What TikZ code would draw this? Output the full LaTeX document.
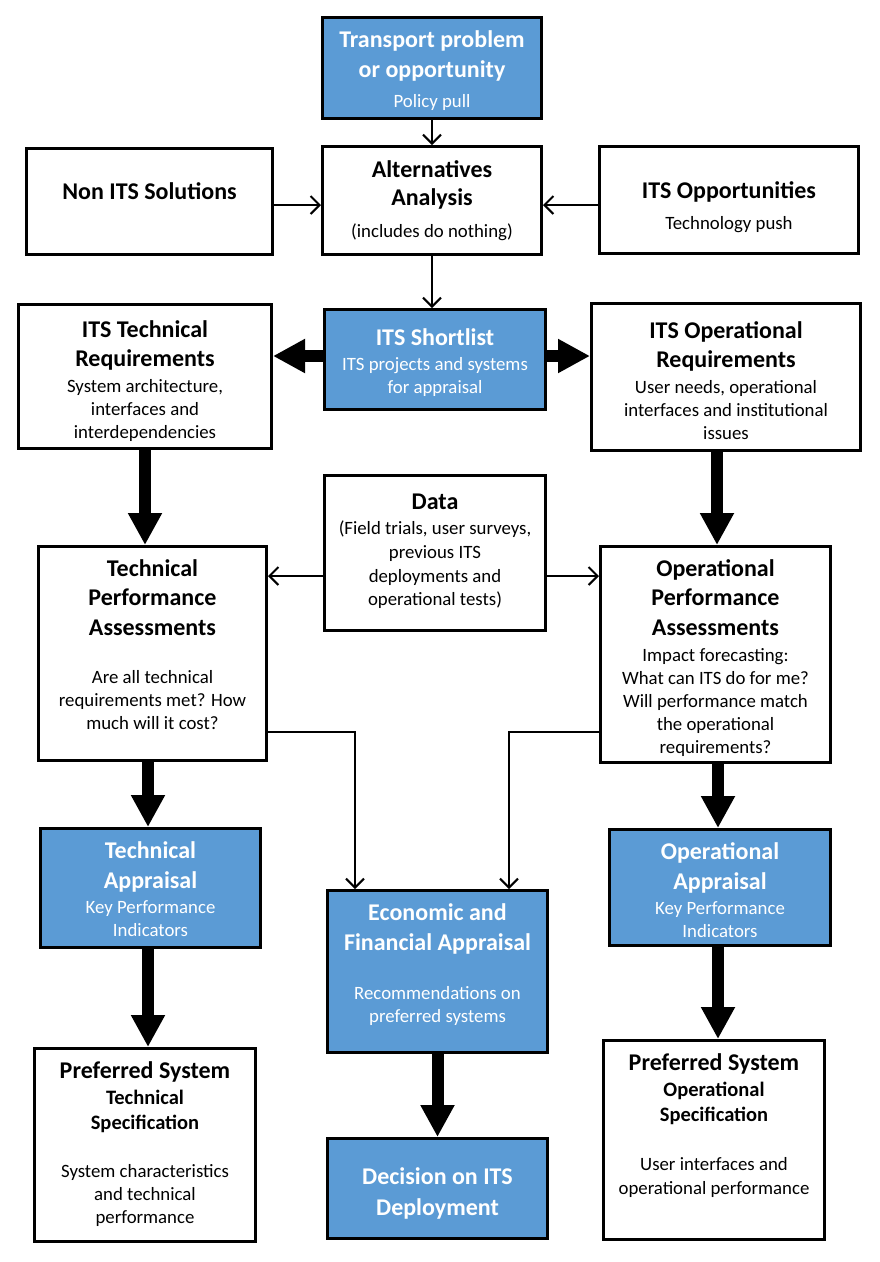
\documentclass[tikz,border=0pt]{standalone}
\usepackage{fontspec}
\setmainfont{Carlito}
\usetikzlibrary{arrows.meta}
\definecolor{itsblue}{HTML}{5B9BD5}
\tikzset{
  box/.style={draw=black, line width=3pt, fill=white, rectangle, inner sep=0pt},
  bbox/.style={box, fill=itsblue},
  hd/.style={font=\bfseries\fontsize{24}{28}\selectfont, inner sep=0pt, text height=0.64em, text depth=0pt, yshift=-4pt},
  mb/.style={font=\bfseries\fontsize{20.5}{24}\selectfont, inner sep=0pt, text height=0.64em, text depth=0pt, yshift=-3.5pt},
  sm/.style={font=\fontsize{18.8}{22}\selectfont, inner sep=0pt, text height=0.64em, text depth=0pt, yshift=-3.5pt},
  wt/.style={text=white},
  thin arrow/.style={draw=black, line width=2pt, -{Straight Barb[length=9pt,width=18pt,line width=2pt]}},
  thick arrow/.style={draw=black, line width=12pt, -{Triangle[length=32pt,width=32pt]}},
}
\begin{document}
\begin{tikzpicture}[x=1pt,y=-1pt]
\useasboundingbox (0,0) rectangle (879,1262);
% boxes
\node[bbox, minimum width=219, minimum height=101] (tp) at (432,68) {};
\node[box, minimum width=246, minimum height=106] (nonits) at (149.5,201.5) {};
\node[box, minimum width=219, minimum height=108] (alt) at (432,200.5) {};
\node[box, minimum width=259, minimum height=107] (opp) at (729,200) {};
\node[box, minimum width=253, minimum height=144] (techreq) at (145,376.5) {};
\node[bbox, minimum width=221, minimum height=100] (short) at (435,359.5) {};
\node[box, minimum width=269, minimum height=147] (opreq) at (726,377) {};
\node[box, minimum width=221, minimum height=155] (data) at (435,553) {};
\node[box, minimum width=228, minimum height=214] (techperf) at (152.5,653.5) {};
\node[box, minimum width=230, minimum height=216] (opperf) at (715.5,654.5) {};
\node[bbox, minimum width=220, minimum height=119] (techapp) at (150.5,888) {};
\node[bbox, minimum width=220, minimum height=162] (econ) at (437.5,971.5) {};
\node[bbox, minimum width=221, minimum height=116] (opapp) at (720,887.5) {};
\node[box, minimum width=221, minimum height=193] (preftech) at (145,1145) {};
\node[bbox, minimum width=220, minimum height=100] (decision) at (437.5,1188.5) {};
\node[box, minimum width=221, minimum height=199] (prefop) at (714,1140) {};

% texts
\node[hd,wt] (tp1) at (432,40) {Transport problem};
\node[hd,wt] (tp2) at (432,70) {or opportunity};
\node[sm,wt] (tp3) at (432,101) {Policy pull};

\node[hd] (ni1) at (149.5,192) {Non ITS Solutions};

\node[hd] (al1) at (432,170) {Alternatives};
\node[hd] (al2) at (432,198) {Analysis};
\node[sm] (al3) at (432,231) {(includes do nothing)};

\node[hd] (op1) at (729,191) {ITS Opportunities};
\node[sm] (op2) at (729,223) {Technology push};

\node[hd] (tr1) at (145,330) {ITS Technical};
\node[hd] (tr2) at (145,359) {Requirements};
\node[sm] (tr3) at (145,386) {System architecture,};
\node[sm] (tr4) at (145,409) {interfaces and};
\node[sm] (tr5) at (145,432) {interdependencies};

\node[hd,wt] (sl1) at (435,338) {ITS Shortlist};
\node[sm,wt] (sl2) at (435,364) {ITS projects and systems};
\node[sm,wt] (sl3) at (435,387) {for appraisal};

\node[hd] (or1) at (726,331) {ITS Operational};
\node[hd] (or2) at (726,360) {Requirements};
\node[sm] (or3) at (726,387) {User needs, operational};
\node[sm] (or4) at (726,410) {interfaces and institutional};
\node[sm] (or5) at (726,433) {issues};

\node[hd] (da1) at (435,502) {Data};
\node[sm] (da2) at (435,528) {(Field trials, user surveys,};
\node[sm] (da3) at (435,552) {previous ITS};
\node[sm] (da4) at (435,576) {deployments and};
\node[sm] (da5) at (435,599) {operational tests)};

\node[hd] (tpa1) at (152.5,569) {Technical};
\node[hd] (tpa2) at (152.5,598) {Performance};
\node[hd] (tpa3) at (152.5,628) {Assessments};
\node[sm] (tpa4) at (152.5,677) {Are all technical};
\node[sm] (tpa5) at (152.5,700) {requirements met? How};
\node[sm] (tpa6) at (152.5,723) {much will it cost?};

\node[hd] (opa1) at (715.5,569) {Operational};
\node[hd] (opa2) at (715.5,598) {Performance};
\node[hd] (opa3) at (715.5,628) {Assessments};
\node[sm] (opa4) at (715.5,655) {Impact forecasting:};
\node[sm] (opa5) at (715.5,678) {What can ITS do for me?};
\node[sm] (opa6) at (715.5,701) {Will performance match};
\node[sm] (opa7) at (715.5,724) {the operational};
\node[sm] (opa8) at (715.5,747) {requirements?};

\node[hd,wt] (ta1) at (150.5,851) {Technical};
\node[hd,wt] (ta2) at (150.5,881) {Appraisal};
\node[sm,wt] (ta3) at (150.5,907) {Key Performance};
\node[sm,wt] (ta4) at (150.5,930) {Indicators};

\node[hd,wt] (ec1) at (437.5,913) {Economic and};
\node[hd,wt] (ec2) at (437.5,943) {Financial Appraisal};
\node[sm,wt] (ec3) at (437.5,993) {Recommendations on};
\node[sm,wt] (ec4) at (437.5,1016) {preferred systems};

\node[hd,wt] (oa1) at (720,852) {Operational};
\node[hd,wt] (oa2) at (720,882) {Appraisal};
\node[sm,wt] (oa3) at (720,908) {Key Performance};
\node[sm,wt] (oa4) at (720,931) {Indicators};

\node[hd] (pt1) at (145,1071) {Preferred System};
\node[mb] (pt2) at (145,1098) {Technical};
\node[mb] (pt3) at (145,1123) {Specification};
\node[sm] (pt4) at (145,1171) {System characteristics};
\node[sm] (pt5) at (145,1194) {and technical};
\node[sm] (pt6) at (145,1217) {performance};

\node[hd,wt] (de1) at (437.5,1177) {Decision on ITS};
\node[hd,wt] (de2) at (437.5,1208) {Deployment};

\node[hd] (po1) at (714,1063) {Preferred System};
\node[mb] (po2) at (714,1090) {Operational};
\node[mb] (po3) at (714,1115) {Specification};
\node[sm] (po4) at (714,1164) {User interfaces and};
\node[sm] (po5) at (714,1188) {operational performance};

% thin arrows
\draw[thin arrow] (tp.south) -- (alt.north);
\draw[thin arrow] ([yshift=-3.5pt]nonits.east) -- ([yshift=-3.5pt]nonits.east -| alt.west);
\draw[thin arrow] ([yshift=-5pt]opp.west) -- ([yshift=-5pt]opp.west -| alt.east);
\draw[thin arrow] (alt.south) -- (alt.south |- short.north);
\draw[thin arrow] ([yshift=-23pt]data.west) -- ([yshift=-23pt]data.west -| techperf.east);
\draw[thin arrow] ([yshift=-23pt]data.east) -- ([yshift=-23pt]data.east -| opperf.west);
\draw[thin arrow] ([yshift=-78.5pt]techperf.east) -| ([xshift=-82.5pt]econ.north);
\draw[thin arrow] ([yshift=-77.5pt]opperf.west) -| ([xshift=71.5pt]econ.north);

% thick arrows
\draw[thick arrow] ([yshift=3.5pt]short.west) -- ([yshift=3.5pt]short.west -| techreq.east);
\draw[thick arrow] ([yshift=3.5pt]short.east) -- ([yshift=3.5pt]short.east -| opreq.west);
\draw[thick arrow] (techreq.south) -- (techreq.south |- techperf.north);
\draw[thick arrow] ([xshift=1.5pt]opperf.north |- opreq.south) -- ([xshift=1.5pt]opperf.north);
\draw[thick arrow] ([xshift=-2.5pt]techapp.north |- techperf.south) -- ([xshift=-2.5pt]techapp.north);
\draw[thick arrow] ([xshift=-2pt]opapp.north |- opperf.south) -- ([xshift=-2pt]opapp.north);
\draw[thick arrow] ([xshift=-2.5pt]techapp.south) -- ([xshift=-2.5pt]techapp.south |- preftech.north);
\draw[thick arrow] ([xshift=-2pt]opapp.south) -- ([xshift=-2pt]opapp.south |- prefop.north);
\draw[thick arrow] (econ.south) -- (decision.north);
\end{tikzpicture}
\end{document}
